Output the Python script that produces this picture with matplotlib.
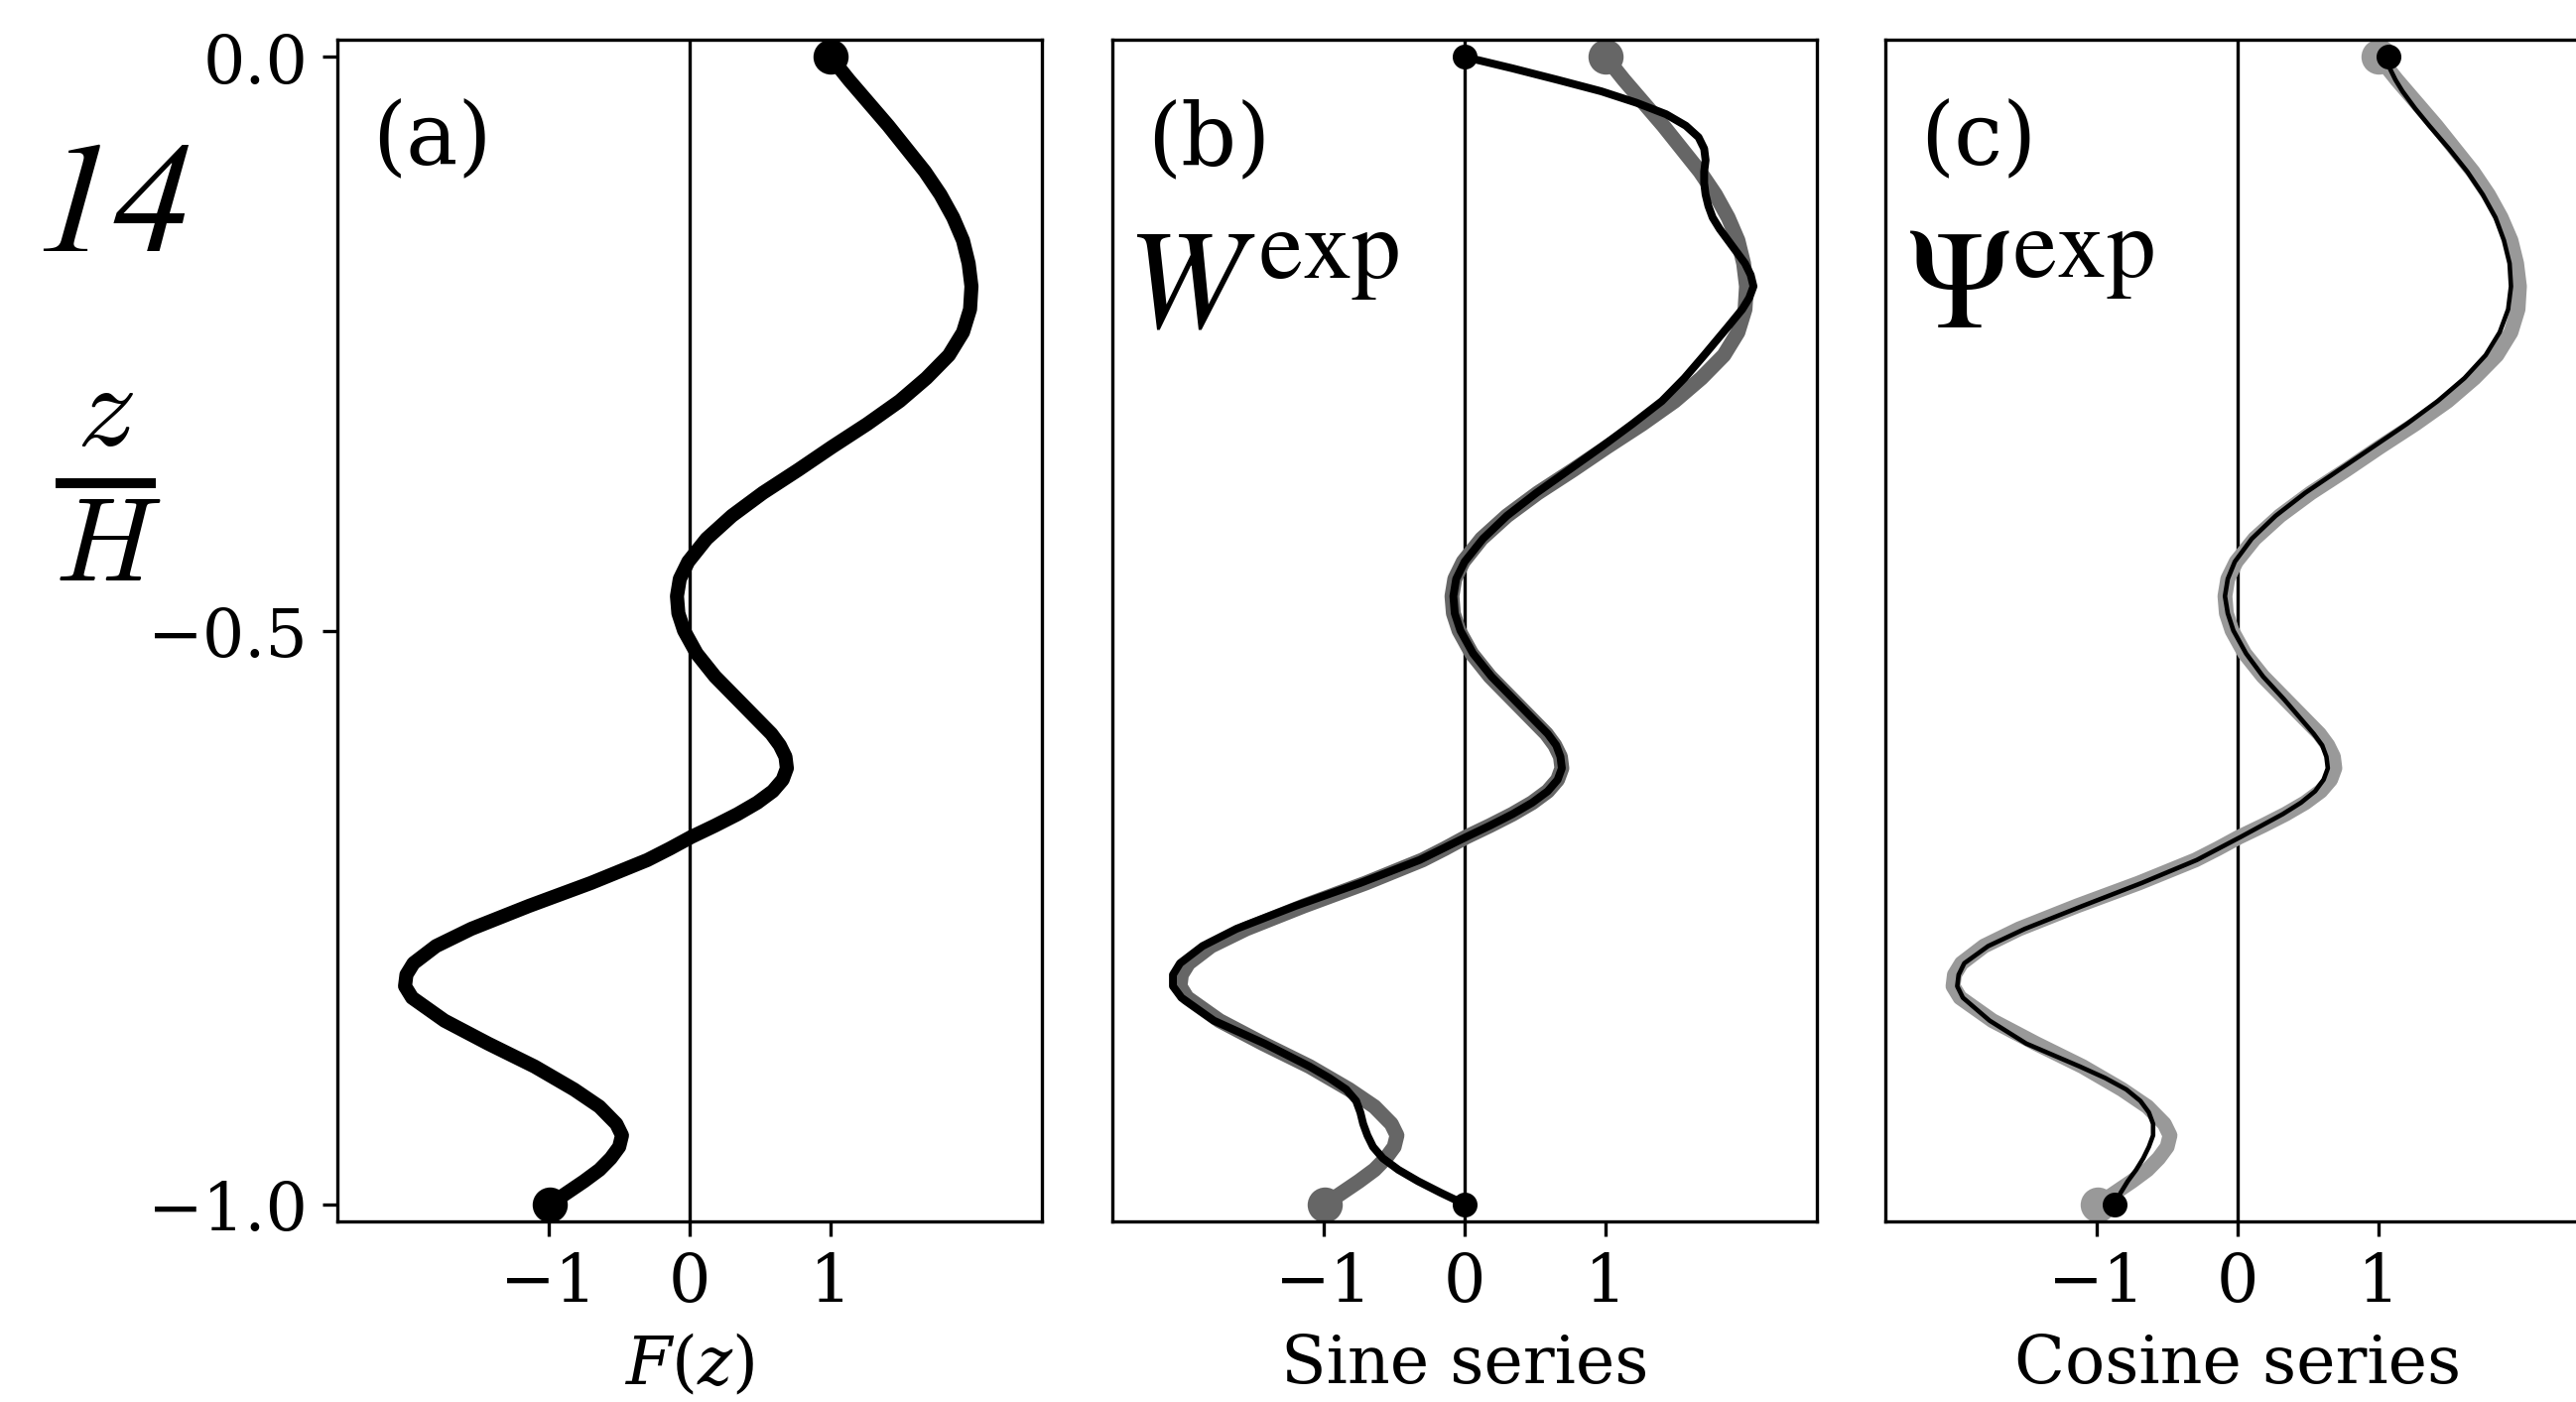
import matplotlib
matplotlib.use("Agg")
import matplotlib.pyplot as plt

plt.rcParams['font.family'] = 'DejaVu Serif'
plt.rcParams['mathtext.fontset'] = 'cm'

# F(z): the target profile (depth z/H, value)
z_F = [0.0, -0.02, -0.04, -0.06, -0.08, -0.10, -0.12, -0.14, -0.16, -0.18,
       -0.20, -0.22, -0.24, -0.26, -0.28, -0.30, -0.32, -0.34, -0.36, -0.38,
       -0.40, -0.42, -0.44, -0.455, -0.47, -0.485, -0.50, -0.52, -0.54, -0.56,
       -0.58, -0.59, -0.60, -0.61, -0.62, -0.63, -0.64, -0.65, -0.66, -0.67,
       -0.68, -0.69, -0.70, -0.72, -0.74, -0.76, -0.775, -0.79, -0.80, -0.81,
       -0.82, -0.84, -0.86, -0.88, -0.90, -0.915, -0.93, -0.94, -0.95, -0.96,
       -0.97, -0.98, -0.99, -1.0]
F = [1.00, 1.13, 1.27, 1.41, 1.54, 1.67, 1.78, 1.87, 1.94, 1.98,
     2.00, 1.99, 1.94, 1.84, 1.68, 1.49, 1.26, 1.01, 0.77, 0.52,
     0.30, 0.12, -0.01, -0.07, -0.09, -0.08, -0.04, 0.05, 0.18, 0.34,
     0.50, 0.58, 0.64, 0.68, 0.69, 0.66, 0.59, 0.48, 0.34, 0.18,
     0.01, -0.14, -0.30, -0.70, -1.14, -1.55, -1.80, -1.96, -2.01, -2.02,
     -1.97, -1.74, -1.43, -1.10, -0.82, -0.64, -0.52, -0.48, -0.50, -0.56,
     -0.64, -0.75, -0.87, -0.99]

# truncated sine series (W^exp)
z_sine = [0.0, -0.005, -0.01, -0.02, -0.03, -0.04, -0.05, -0.06, -0.07, -0.08,
          -0.09, -0.10, -0.11, -0.12, -0.13, -0.14, -0.15, -0.16, -0.17, -0.18,
          -0.19, -0.20, -0.21, -0.22, -0.235, -0.26, -0.28, -0.30, -0.32, -0.34,
          -0.36, -0.38, -0.40, -0.42, -0.44, -0.455, -0.47, -0.485, -0.50, -0.52,
          -0.54, -0.56, -0.58, -0.59, -0.60, -0.61, -0.62, -0.63, -0.64, -0.65,
          -0.66, -0.67, -0.68, -0.70, -0.72, -0.74, -0.76, -0.775, -0.79, -0.80,
          -0.81, -0.82, -0.84, -0.86, -0.88, -0.89, -0.90, -0.91, -0.92, -0.93,
          -0.94, -0.95, -0.96, -0.97, -0.98, -0.99, -1.0]
sine = [0.00, 0.17, 0.34, 0.66, 0.97, 1.22, 1.43, 1.57, 1.66, 1.70,
        1.71, 1.70, 1.70, 1.71, 1.73, 1.76, 1.81, 1.87, 1.93, 1.99,
        2.03, 2.05, 2.02, 1.97, 1.87, 1.70, 1.56, 1.40, 1.19, 0.97,
        0.74, 0.51, 0.30, 0.13, 0.00, -0.06, -0.08, -0.07, -0.03, 0.06,
        0.19, 0.35, 0.51, 0.59, 0.65, 0.68, 0.69, 0.66, 0.59, 0.48,
        0.34, 0.18, 0.01, -0.32, -0.74, -1.20, -1.62, -1.86, -2.02, -2.07,
        -2.07, -2.01, -1.78, -1.42, -1.10, -0.96, -0.84, -0.77, -0.74, -0.72,
        -0.69, -0.65, -0.58, -0.47, -0.33, -0.17, 0.00]

# truncated cosine series (Psi^exp)
z_cos = [0.0, -0.01, -0.02, -0.03, -0.045, -0.06, -0.08, -0.10, -0.12, -0.14,
         -0.16, -0.18, -0.20, -0.22, -0.24, -0.26, -0.28, -0.30, -0.32, -0.34,
         -0.36, -0.38, -0.40, -0.42, -0.44, -0.455, -0.47, -0.485, -0.50, -0.52,
         -0.54, -0.56, -0.58, -0.59, -0.60, -0.61, -0.62, -0.63, -0.64, -0.65,
         -0.66, -0.67, -0.68, -0.70, -0.72, -0.74, -0.76, -0.775, -0.79, -0.80,
         -0.81, -0.82, -0.84, -0.86, -0.88, -0.89, -0.90, -0.91, -0.92, -0.93,
         -0.94, -0.95, -0.96, -0.97, -0.98, -0.99, -1.0]
cosine = [1.07, 1.08, 1.12, 1.17, 1.26, 1.36, 1.50, 1.63, 1.74, 1.83,
          1.89, 1.93, 1.94, 1.92, 1.86, 1.76, 1.61, 1.42, 1.20, 0.96,
          0.72, 0.48, 0.27, 0.10, -0.02, -0.07, -0.09, -0.07, -0.03, 0.06,
          0.18, 0.33, 0.47, 0.54, 0.60, 0.63, 0.64, 0.61, 0.55, 0.45,
          0.32, 0.17, 0.02, -0.29, -0.68, -1.10, -1.51, -1.77, -1.94, -1.98,
          -1.99, -1.95, -1.76, -1.50, -1.12, -0.94, -0.79, -0.69, -0.63, -0.60,
          -0.60, -0.63, -0.67, -0.72, -0.78, -0.83, -0.87]

xticks = [-1, 0, 1]
xticklabels = ['\u22121', '0', '1']
yticks = [0.0, -0.5, -1.0]
yticklabels = ['0.0', '\u22120.5', '\u22121.0']
panel_tags = ['(a)', '(b)', '(c)']
xlabels = ['Sine series', 'Cosine series']

W, H = 2596, 1414
fig = plt.figure(figsize=(W / 300, H / 300), dpi=300)

lefts = [340, 1121, 1900]
axes = []
for lx in lefts:
    ax = fig.add_axes([lx / W, 182 / H, 710 / W, 1191 / H])
    ax.set_xlim(-2.5, 2.5)
    ax.set_ylim(-1.015, 0.015)
    ax.axvline(0, color='black', lw=0.8)
    ax.set_xticks(xticks)
    ax.set_xticklabels(xticklabels)
    ax.tick_params(labelsize=16)
    axes.append(ax)

ax1, ax2, ax3 = axes
ax1.set_yticks(yticks)
ax1.set_yticklabels(yticklabels)
ax2.set_yticks([])
ax3.set_yticks([])

# (a) target profile
ax1.plot(F, z_F, color='black', lw=3.4, solid_capstyle='round')
ax1.plot([F[0], F[-1]], [z_F[0], z_F[-1]], 'o', color='black', ms=7.5)

# (b) sine series over F
ax2.plot(F, z_F, color='#666666', lw=3.6)
ax2.plot([F[0], F[-1]], [z_F[0], z_F[-1]], 'o', color='#666666', ms=7.5)
ax2.plot(sine, z_sine, color='black', lw=1.9)
ax2.plot([sine[0], sine[-1]], [z_sine[0], z_sine[-1]], 'o', color='black', ms=5)

# (c) cosine series over F
ax3.plot(F, z_F, color='#999999', lw=3.6)
ax3.plot([F[0], F[-1]], [z_F[0], z_F[-1]], 'o', color='#999999', ms=7.5)
ax3.plot(cosine, z_cos, color='black', lw=1.1)
ax3.plot([cosine[0], cosine[-1]], [z_cos[0], z_cos[-1]], 'o', color='black', ms=5)

for ax, lab in zip(axes, panel_tags):
    ax.text(0.05, 0.915, lab, transform=ax.transAxes, fontsize=21,
            va='center', ha='left')

ax2.text(0.02, 0.79, r'$W^{\rm exp}$', transform=ax2.transAxes,
         fontsize=34, math_fontfamily='stix', va='center', ha='left')
ax3.text(0.03, 0.79, r'$\Psi^{\rm exp}$', transform=ax3.transAxes,
         fontsize=34, math_fontfamily='stix', va='center', ha='left')

ax1.set_xlabel(r'$F(z)$', fontsize=16, math_fontfamily='dejavuserif', labelpad=4)
ax2.set_xlabel(xlabels[0], fontsize=16, labelpad=4)
ax3.set_xlabel(xlabels[1], fontsize=16, labelpad=4)

fig.text(0.044, 0.848, '14', fontsize=38, family='STIXGeneral', style='italic',
         ha='center', va='center')
fig.text(0.042, 0.653, r'$\frac{z}{H}$', fontsize=41, math_fontfamily='cm',
         ha='center', va='center')

fig.savefig('out.png', dpi=300)
